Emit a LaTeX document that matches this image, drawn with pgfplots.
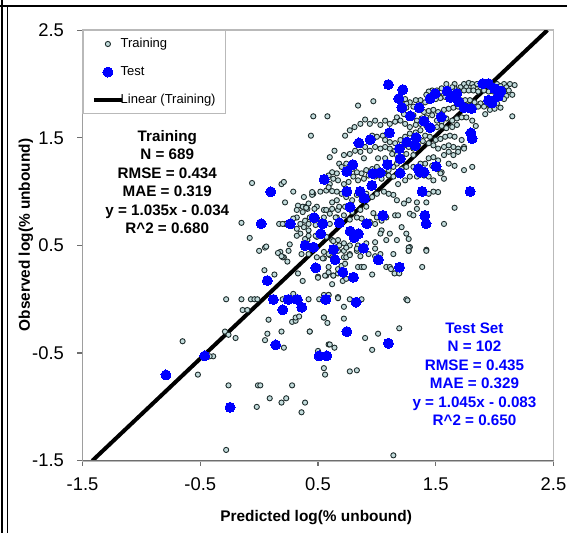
\documentclass[border=0pt]{standalone}
\usepackage{fontspec}
\setmainfont{Liberation Sans}
\usepackage{pgfplots}
\pgfplotsset{compat=1.18}
\definecolor{trfill}{RGB}{195,220,220}
\definecolor{tredge}{RGB}{30,45,45}
\definecolor{axdark}{RGB}{110,110,110}
\definecolor{axlight}{RGB}{185,185,185}
\begin{document}
\begin{tikzpicture}
\useasboundingbox (0bp,0bp) rectangle (283.5bp,266.5bp);
\draw[line width=1.2bp] (0bp,263.6bp) -- (283.5bp,263.6bp);
\draw[line width=0.8bp] (0.9bp,0bp) -- (0.9bp,266.5bp);
\draw[line width=0.8bp] (3.8bp,0bp) -- (3.8bp,263.6bp);
\begin{axis}[
  at={(41.25bp,36.15bp)}, anchor=south west, scale only axis,
  width=235.5bp, height=215.25bp,
  xmin=-1.5, xmax=2.5, ymin=-1.5, ymax=2.5,
  xtick={-1.5,-0.5,0.5,1.5,2.5}, ytick={-1.5,-0.5,0.5,1.5,2.5},
  xticklabels={-1.5,-0.5,0.5,1.5,2.5}, yticklabels={-1.5,-0.5,0.5,1.5,2.5},
  tick align=outside, xtick pos=bottom, ytick pos=left,
  major tick length=2.5bp,
  tick style={draw=axdark, line width=0.6bp},
  axis line style={draw=axlight, line width=0.8bp},
  ticklabel style={font=\fontsize{9.2bp}{11bp}\selectfont},
  xticklabel style={yshift=-2.6bp},
  yticklabel style={xshift=-3.3bp},
  xlabel={Predicted log(\% unbound)},
  ylabel={Observed log(\% unbound)},
  label style={font=\bfseries\fontsize{7.7bp}{9bp}\selectfont},
  xlabel style={at={(axis description cs:0.496,-0.131)}, anchor=center},
  ylabel style={at={(axis description cs:-0.12,0.524)}, anchor=center, rotate=0},
  legend style={at={(rel axis cs:0,1)}, anchor=north west, draw=axlight, line width=0.6bp,
    fill=white, inner xsep=4.4bp, inner ysep=3.6bp,
    font=\fontsize{6.5bp}{7.5bp}\selectfont, row sep=8bp,
    nodes={inner sep=0pt, text height=4.7bp, text depth=1.3bp},
    /tikz/every odd column/.append style={column sep=-1.6bp}},
  legend cell align=left,
  clip=true,
]
\addplot[only marks, mark=*, mark size=1.3bp, mark options={draw=tredge, fill=trfill, line width=0.45bp},
  legend image code/.code={\draw[mark repeat=2,mark phase=2] plot coordinates {(0bp,0bp)(7bp,0bp)(14bp,0bp)};}]
coordinates {
(1.59,2.00)(1.66,2.00)(1.74,2.00)(1.78,2.01)(1.81,2.00)(1.85,2.00)(1.89,1.99)(1.93,2.01)(2.02,2.00)(2.08,2.00)(2.13,2.00)(2.17,1.99)(2.10,1.97)(2.05,1.98)(1.98,1.99)(1.88,1.97)(1.82,1.97)(1.76,1.97)(1.71,1.97)(1.66,1.96)(1.64,1.97)(1.55,1.96)(1.51,1.94)(1.47,1.94)(1.44,1.93)(1.42,1.90)(1.48,1.90)(1.52,1.90)(1.57,1.90)(1.61,1.91)(1.65,1.93)(1.69,1.94)(1.74,1.94)(1.78,1.94)(1.82,1.94)(1.86,1.93)(1.91,1.94)(1.95,1.93)(1.99,1.93)(2.08,1.94)(2.12,1.94)(2.15,1.90)(2.10,1.89)(2.08,1.86)(2.02,1.82)(1.96,1.80)(1.92,1.80)(1.88,1.82)(1.83,1.83)(1.79,1.85)(1.75,1.85)(1.71,1.85)(1.66,1.86)(1.62,1.88)(1.58,1.88)(1.54,1.87)(1.50,1.86)(1.45,1.85)(1.41,1.83)(1.37,1.85)(1.33,1.85)(1.28,1.83)(1.25,1.82)(1.31,1.79)(1.35,1.76)(1.40,1.74)(1.44,1.75)(1.48,1.76)(1.52,1.74)(1.57,1.76)(1.61,1.77)(1.65,1.78)(1.69,1.79)(1.74,1.79)(1.78,1.80)(1.82,1.78)(1.86,1.79)(1.91,1.79)(1.92,1.72)(2.15,1.70)(1.96,1.76)(2.00,1.77)(2.05,1.78)(1.25,1.78)(1.21,1.85)(1.24,1.86)(0.84,1.80)(0.97,1.84)(0.46,1.70)(0.58,1.70)(0.44,1.52)
(1.17,1.69)(1.23,1.72)(1.27,1.69)(1.31,1.71)(1.34,1.66)(1.38,1.68)(1.42,1.69)(1.47,1.71)(1.51,1.66)(1.55,1.65)(1.59,1.68)(1.64,1.66)(1.68,1.68)(1.72,1.69)(1.76,1.69)(1.81,1.66)(1.84,1.61)(1.68,1.62)(1.64,1.60)(1.59,1.59)(1.55,1.61)(1.51,1.60)(1.47,1.59)(1.42,1.61)(1.37,1.63)(1.33,1.62)(1.28,1.60)(1.24,1.63)(1.20,1.66)(1.155,1.65)(1.11,1.63)(1.07,1.66)(1.03,1.62)(0.985,1.66)(0.94,1.63)(0.90,1.67)(0.86,1.63)(0.81,1.60)(0.77,1.57)(0.73,1.52)(1.05,1.52)(1.00,1.51)(0.96,1.52)(1.07,1.48)(1.11,1.46)(1.155,1.45)(1.20,1.48)(1.24,1.51)(1.28,1.54)(1.33,1.55)(1.37,1.57)(1.41,1.52)(1.45,1.51)(1.50,1.48)(1.54,1.49)(1.58,1.51)(1.62,1.52)(1.66,1.51)(1.72,1.48)(1.74,1.415)(1.69,1.40)(1.65,1.415)(1.61,1.43)(1.57,1.415)(1.52,1.40)(1.48,1.43)(1.44,1.45)(1.39,1.47)(1.35,1.43)(1.31,1.40)(1.27,1.415)(1.23,1.43)(1.155,1.38)(1.11,1.40)(1.07,1.415)(1.03,1.40)(0.985,1.415)(0.94,1.38)(0.90,1.415)(0.86,1.37)(0.815,1.38)(0.77,1.35)(0.72,1.34)(0.68,1.26)(0.64,1.38)(0.60,1.32)(0.89,1.31)(1.01,1.31)(1.07,1.31)(1.13,1.35)(1.17,1.34)(1.25,1.35)(1.31,1.34)(1.44,1.31)(1.48,1.32)(1.52,1.29)(1.57,1.34)(1.61,1.37)(1.65,1.34)(1.69,1.37)(1.74,1.40)
(1.81,1.23)(1.74,1.20)(1.66,1.24)(1.61,1.26)(1.55,1.18)(1.51,1.21)(1.47,1.24)(1.41,1.26)(1.37,1.26)(1.31,1.23)(1.25,1.23)(1.21,1.21)(1.17,1.26)(1.14,1.23)(1.10,1.20)(1.06,1.17)(1.00,1.23)(0.96,1.21)(0.91,1.20)(0.87,1.17)(0.83,1.18)(0.79,1.21)(0.74,1.26)(0.70,1.23)(0.66,1.17)(0.62,1.18)(0.59,1.15)(1.54,1.17)(1.57,1.12)(1.48,1.105)(1.44,1.14)(1.40,1.15)(1.34,1.14)(1.28,1.14)(1.24,1.105)(1.18,1.07)(1.14,1.14)(1.10,1.15)(1.04,1.12)(0.985,1.14)(0.93,1.15)(0.89,1.12)(0.84,1.105)(0.80,1.14)(0.76,1.09)(0.72,1.07)(0.67,1.105)(0.63,1.12)(0.60,1.07)
(1.52,0.996)(1.48,1.00)(1.44,0.98)(1.42,0.90)(1.34,0.90)(1.27,0.92)(1.23,0.89)(1.17,0.92)(1.14,0.97)(1.10,0.98)(1.06,1.00)(1.00,0.98)(0.96,0.95)(0.91,0.98)(0.87,0.92)(0.83,0.97)(0.79,0.92)(0.74,0.95)(0.70,0.98)(0.66,1.00)(0.62,1.005)(0.57,1.01)(0.52,1.00)(0.46,0.98)(0.38,0.95)(0.45,0.97)(0.37,0.86)(0.41,0.84)(0.49,0.86)(0.55,0.83)(0.62,0.84)(0.67,0.83)(0.73,0.86)(0.79,0.81)(0.86,0.83)(0.91,0.86)(0.97,0.80)(1.00,0.76)(1.04,0.73)(1.08,0.76)(1.155,0.78)(1.18,0.78)(1.28,0.795)(1.34,0.84)(1.57,0.70)(1.66,0.85)(1.31,0.78)(1.21,0.67)(1.25,0.61)(1.27,0.56)(1.17,0.55)(1.11,0.61)(1.04,0.64)(0.985,0.70)(0.94,0.72)(0.87,0.75)(0.83,0.76)(0.77,0.74)(0.72,0.78)(0.66,0.76)(0.60,0.795)(0.55,0.76)(0.49,0.75)(0.43,0.76)(0.39,0.73)(0.38,0.67)(0.42,0.64)(0.48,0.69)(0.41,0.55)(0.38,0.485)(0.49,0.58)(0.57,0.58)(0.62,0.55)(0.67,0.55)(0.72,0.52)(0.77,0.50)(0.84,0.485)(0.91,0.52)(0.985,0.53)(1.03,0.61)(1.08,0.55)(1.14,0.42)(1.27,0.45)(1.28,0.485)(1.42,0.46)(0.83,0.45)(0.77,0.42)(0.72,0.45)(0.67,0.45)(0.55,0.38)(0.60,0.41)(0.72,0.39)(0.86,0.40)(0.93,0.42)(0.985,0.47)
(-0.06,1.08)(0.19,1.07)(0.21,1.09)(0.29,1.00)(0.22,0.90)(0.33,0.87)(0.40,0.86)(0.37,0.81)(0.32,0.76)(0.17,0.70)(0.22,0.70)(-0.15,0.71)(-0.08,0.57)(0.00,0.45)(0.05,0.48)(0.18,0.44)(0.21,0.39)(0.26,0.51)(0.35,0.61)(0.32,0.655)(0.39,0.56)
(0.59,1.04)(0.66,0.92)(0.62,0.90)(0.57,0.83)(0.68,0.86)(0.65,0.76)(0.47,0.84)(0.42,0.89)(0.40,0.85)(0.32,0.83)(0.29,0.75)(0.45,0.996)(0.20,0.70)(0.35,0.70)(0.42,0.70)(0.60,0.70)(0.48,0.59)(0.42,0.59)(0.32,0.59)(0.06,0.49)(0.25,0.45)(0.36,0.42)(0.42,0.42)(0.20,0.39)(0.49,0.39)(0.55,0.44)(0.59,0.42)(0.66,0.485)(0.40,0.51)(0.63,0.54)
(0.16,0.43)(0.19,0.40)(0.24,0.35)(0.045,0.27)(0.13,0.23)(0.33,0.24)(0.37,0.17)(0.50,0.30)(0.54,0.38)(0.57,0.22)(0.59,0.30)(0.63,0.22)(0.62,0.14)(0.59,0.04)(0.67,0.02)(0.50,0.21)
(-0.28,0.00)(-0.15,0.00)(-0.07,0.00)(-0.04,0.00)(-0.015,0.00)(0.20,0.00)(0.42,0.00)(0.51,0.00)(-0.14,-0.10)(-0.10,-0.10)(0.29,0.05)(0.08,-0.19)(0.28,-0.21)(0.31,-0.20)(0.31,-0.17)(0.34,-0.16)(0.55,-0.17)(0.58,-0.22)
(-0.29,-0.30)(-0.20,-0.36)(-0.65,-0.39)(0.07,-0.32)(0.05,-0.38)(0.19,-0.30)(0.43,-0.30)(0.21,-0.45)(0.59,-0.42)(0.64,-0.45)(0.50,-0.48)(0.55,-0.64)(0.56,-0.70)(-0.39,-0.53)(-0.42,-0.53)(-0.52,-0.70)(-0.26,-0.80)(-0.01,-0.80)(0.01,-0.80)(0.28,-0.80)(0.09,-0.92)(0.23,-0.92)(0.19,-0.96)(0.39,-0.96)(-0.02,-1.00)(0.36,-1.05)(-0.28,-1.40)(-0.26,-0.33)
(0.50,0.20)(0.56,0.22)(0.59,0.25)(0.63,0.22)(0.67,0.24)(0.67,0.28)(0.70,0.31)(0.73,0.33)(0.74,0.39)(0.77,0.41)(0.84,0.30)(0.87,0.30)(0.89,0.30)(0.96,0.23)(0.985,0.40)(1.005,0.38)(1.03,0.42)(1.08,0.30)(1.11,0.30)(1.12,0.28)(1.15,0.24)(1.19,0.24)(1.25,0.00)(1.26,-0.01)(1.27,0.48)(1.27,0.45)(1.42,0.45)(1.385,0.30)(1.19,-0.27)(1.01,-0.32)(0.90,-0.36)(0.96,-0.47)(0.77,-0.67)(0.83,-0.66)(0.43,-0.30)(0.60,-0.42)(0.72,-0.18)(0.72,-0.07)(0.55,-0.17)(0.67,0.01)(0.77,0.00)(0.87,0.00)(0.55,0.04)(0.59,0.04)(0.71,0.17)(0.74,0.19)(0.84,0.50)(0.83,0.47)(0.68,0.50)(0.74,0.48)(1.14,-1.45)
};
\addlegendentry{Training}
\addplot[only marks, mark=*, mark size=2.5bp, mark options={draw=blue, fill=blue, line width=0pt},
  legend image code/.code={\draw[mark repeat=2,mark phase=2] plot coordinates {(0bp,0bp)(7bp,0bp)(14bp,0bp)};}]
coordinates {
(1.098,1.995)(1.22,1.948)(1.186,1.865)(1.212,1.781)(1.283,1.703)(1.359,1.781)(1.452,1.865)(1.495,1.911)(1.401,1.656)(1.452,1.595)(1.546,1.694)(1.597,1.935)(1.625,1.874)(1.679,1.911)(1.696,1.833)(1.741,1.781)(1.803,1.772)(1.900,2.004)(1.948,2.004)(1.999,1.958)(2.053,1.935)(2.030,1.886)(1.948,1.849)(1.977,1.824)(1.798,1.545)(1.809,1.493)(1.792,1.002)(1.107,1.548)(0.943,1.483)(0.847,1.452)(1.254,1.461)(1.333,1.502)(1.325,1.430)(1.192,1.400)(1.198,1.306)(1.090,1.253)(0.796,1.251)(0.745,1.188)(0.966,1.167)(1.028,1.176)(1.198,1.173)(1.353,1.213)(1.367,1.182)(1.401,1.182)(1.503,1.235)(0.552,1.114)(0.957,1.058)(0.745,1.002)(0.858,1.002)(1.384,1.002)(0.894,0.940)(0.773,0.857)(1.051,0.779)(1.407,0.779)(1.418,0.702)(0.467,0.758)(0.541,0.702)(0.682,0.711)(0.915,0.702)(0.773,0.633)(0.843,0.609)(0.807,0.572)(0.524,0.609)(0.390,0.500)(0.461,0.484)(0.631,0.463)(0.886,0.475)(0.645,0.367)(1.013,0.367)(0.099,0.999)(0.017,0.702)(0.266,0.702)(0.481,0.292)(0.070,0.174)(0.121,-0.002)(0.248,-0.002)(0.325,-0.002)(0.566,-0.002)(0.201,-0.098)(0.362,-0.074)(0.141,-0.424)(0.509,-0.526)(0.575,-0.526)(-0.462,-0.526)(-0.247,-1.004)(-0.791,-0.703)(0.711,0.252)(0.801,0.205)(1.192,0.298)(0.824,-0.027)(0.745,-0.300)(1.098,-0.409)
};
\addlegendentry{Test}
\addplot[black, line width=2bp, no marks,
  legend image code/.code={\draw (0bp,0bp) -- (14bp,0bp);}]
coordinates {(-1.4164,-1.5) (2.4483,2.5)};
\addlegendentry{Linear (Training)\rule{0.6bp}{0pt}}
\draw[axdark, line width=0.6bp] (rel axis cs:0,1) -- (rel axis cs:0,0) -- (rel axis cs:1,0);
\node[align=center, font=\bfseries\fontsize{7.6bp}{9.25bp}\selectfont] at (axis cs:-0.78,1.087)
  {Training\\N = 689\\RMSE = 0.434\\MAE = 0.319\\y = 1.035x - 0.034\\R\textasciicircum 2 = 0.680};
\node[align=center, text=blue, font=\bfseries\fontsize{7.6bp}{9.25bp}\selectfont] at (axis cs:1.829,-0.695)
  {Test Set\\N = 102\\RMSE = 0.435\\MAE = 0.329\\y = 1.045x - 0.083\\R\textasciicircum 2 = 0.650};
\end{axis}
\end{tikzpicture}
\end{document}
